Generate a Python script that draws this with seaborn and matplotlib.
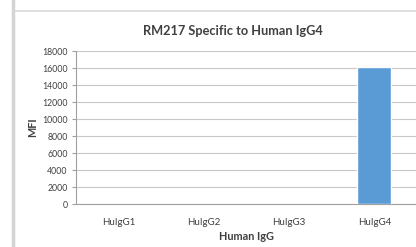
import numpy as np
import pandas as pd
import matplotlib
matplotlib.use("Agg")
import matplotlib.pyplot as plt
from matplotlib.lines import Line2D
import seaborn as sns

categories = ["HuIgG1", "HuIgG2", "HuIgG3", "HuIgG4"]
mfi = [20, 20, 20, 16100]
y_ticks = list(range(0, 18001, 2000))

df = pd.DataFrame({"Human IgG": categories, "MFI": mfi})

sns.set_style("white")
plt.rcParams["font.family"] = ["Lato", "DejaVu Sans"]

fig = plt.figure(figsize=(4.16, 2.47), dpi=100)
ax = fig.add_axes([76 / 416, 1 - 204 / 247, 341 / 416, 153 / 247])

sns.barplot(data=df, x="Human IgG", y="MFI", color="#5b9bd5", width=0.4,
            saturation=1, ax=ax, zorder=3)

ax.set_ylim(0, 18000)
ax.set_xlim(-0.5, 3.5)
ax.set_yticks(y_ticks)
ax.set_yticklabels([str(v) for v in y_ticks], fontsize=6.3, color="#404040")
ax.set_xticks(range(len(categories)))
ax.set_xticklabels(categories, fontsize=7, color="#404040")
ax.set_xticks([0.5, 1.5, 2.5], minor=True)
ax.tick_params(axis="x", which="major", length=0, pad=10)
ax.tick_params(axis="x", which="minor", length=3, color="#a0a0a0", width=0.8)
ax.tick_params(axis="y", length=3, color="#a0a0a0", width=0.8, pad=3, left=True)
ax.grid(axis="y", color="#c8c8c8", linewidth=0.8, zorder=0)
ax.set_axisbelow(True)

for side in ["top", "right"]:
    ax.spines[side].set_visible(False)
for side in ["left", "bottom"]:
    ax.spines[side].set_color("#a0a0a0")
    ax.spines[side].set_linewidth(0.8)

ax.set_xlabel("Human IgG", fontsize=7.8, fontweight="bold", color="#404040", labelpad=3)
ax.set_ylabel("MFI", fontsize=7.8, fontweight="bold", color="#404040", labelpad=3)
fig.text(233 / 416, 1 - 31 / 247, "RM217 Specific to Human IgG4", ha="center", va="center",
         fontsize=9.2, fontweight="bold", color="#404040")

# chart frame edges visible in the crop
fig.add_artist(Line2D([13 / 416, 13 / 416], [0, 1], transform=fig.transFigure,
                      color="#d4d4d4", linewidth=2.5))
fig.add_artist(Line2D([14 / 416, 1], [1 - 11 / 247, 1 - 11 / 247], transform=fig.transFigure,
                      color="#d9d9d9", linewidth=1.2))

fig.savefig("out.png", dpi=100)
